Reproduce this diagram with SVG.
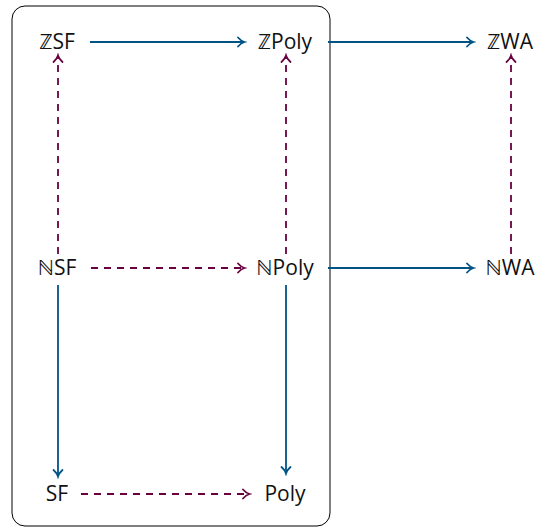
<svg xmlns="http://www.w3.org/2000/svg" width="543" height="528" viewBox="0 0 543 528">
<defs>
<marker id="hb" markerWidth="12" markerHeight="12" refX="9" refY="6" orient="auto" markerUnits="userSpaceOnUse">
<path d="M3,1.5 Q6,5 9.5,6 Q6,7 3,10.5" fill="none" stroke="#005385" stroke-width="1.8" stroke-linecap="round"/>
</marker>
<marker id="hp" markerWidth="12" markerHeight="12" refX="9" refY="6" orient="auto" markerUnits="userSpaceOnUse">
<path d="M3,1.5 Q6,5 9.5,6 Q6,7 3,10.5" fill="none" stroke="#68003f" stroke-width="1.8" stroke-linecap="round"/>
</marker>
</defs>
<style>
.t{font-family:"Open Sans","Noto Sans","DejaVu Sans",sans-serif;font-size:21px;fill:#111;text-anchor:middle;dominant-baseline:central}
.b{stroke:#005385;stroke-width:1.8;fill:none;marker-end:url(#hb)}
.p{stroke:#68003f;stroke-width:1.8;fill:none;stroke-dasharray:7,6;marker-end:url(#hp)}
</style>
<rect x="12" y="6" width="318" height="520" rx="13" fill="none" stroke="#000" stroke-width="1"/>
<g id="connectors">
<line class="b" x1="90" y1="42" x2="244" y2="42"/>
<line class="b" x1="328" y1="42" x2="473" y2="42"/>
<line class="p" x1="91" y1="268" x2="244" y2="268"/>
<line class="b" x1="328" y1="268" x2="473" y2="268"/>
<line class="p" x1="81" y1="494" x2="249" y2="494"/>
<line class="p" x1="58" y1="254" x2="58" y2="56"/>
<line class="p" x1="286" y1="254" x2="286" y2="56"/>
<line class="p" x1="511" y1="254" x2="511" y2="56"/>
<line class="b" x1="58" y1="285" x2="58" y2="476"/>
<line class="b" x1="286" y1="285" x2="286" y2="473"/>
</g>
<g id="ZSF"><text class="t" x="57" y="41">ℤSF</text></g>
<g id="ZPoly"><text class="t" x="285" y="41">ℤPoly</text></g>
<g id="ZWA"><text class="t" x="510" y="41">ℤWA</text></g>
<g id="NSF"><text class="t" x="57" y="267">ℕSF</text></g>
<g id="NPoly"><text class="t" x="285" y="267">ℕPoly</text></g>
<g id="NWA"><text class="t" x="510" y="267">ℕWA</text></g>
<g id="SF"><text class="t" x="57" y="493">SF</text></g>
<g id="Poly"><text class="t" x="285" y="493">Poly</text></g>
</svg>
